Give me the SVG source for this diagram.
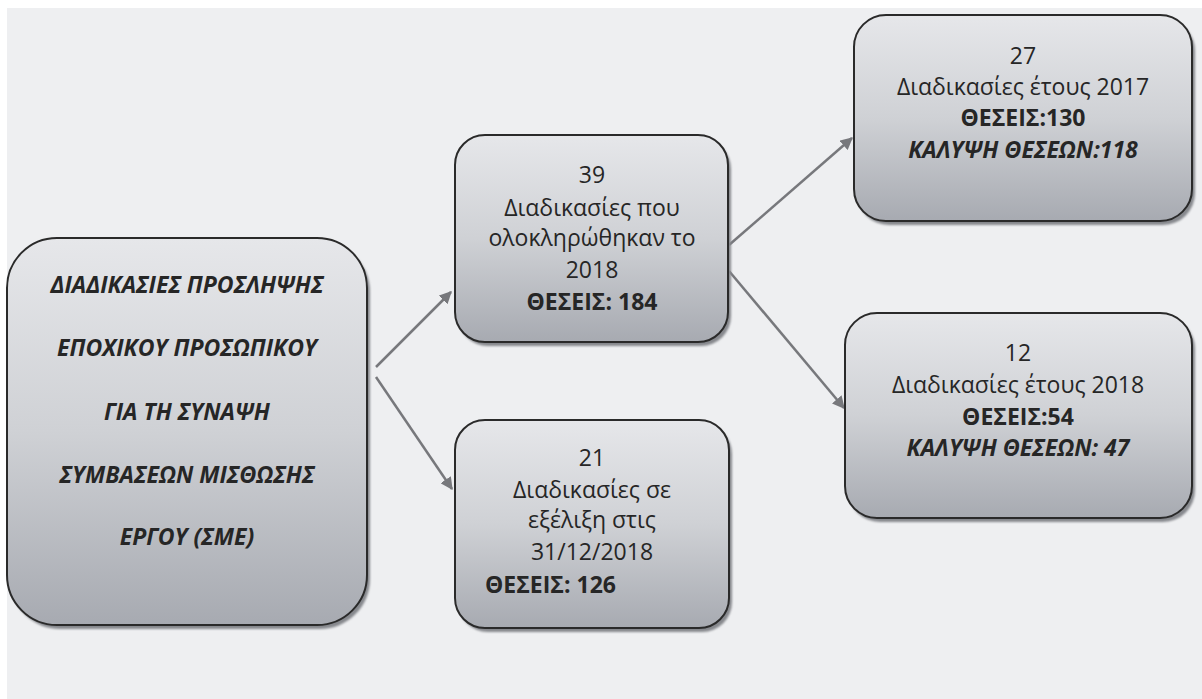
<svg xmlns="http://www.w3.org/2000/svg" width="1202" height="699" viewBox="0 0 1202 699">
<defs>
<linearGradient id="g" x1="0" y1="0" x2="0" y2="1">
<stop offset="0" stop-color="#e6e7ea"/>
<stop offset="0.5" stop-color="#cfd1d5"/>
<stop offset="1" stop-color="#a7aab1"/>
</linearGradient>
<filter id="sh" x="-10%" y="-10%" width="120%" height="120%">
<feGaussianBlur stdDeviation="1.2"/>
</filter>
<marker id="ah" viewBox="0 0 10 10" refX="9" refY="5" markerWidth="5" markerHeight="5" orient="auto" markerUnits="strokeWidth">
<path d="M0,0 L10,5 L0,10 z" fill="#77787c"/>
</marker>
</defs>
<style>
.box{fill:url(#g);stroke:#2a2a2a;stroke-width:2}
.shadow{fill:#86888d;filter:url(#sh)}
.t{font-family:"Open Sans","Noto Sans","DejaVu Sans",sans-serif;font-size:23px;fill:#262626;text-anchor:middle}
.b{font-weight:bold}
.bi{font-weight:bold;font-style:italic}
.conn{stroke:#77787c;stroke-width:2.5;fill:none;marker-end:url(#ah)}
</style>
<rect x="0" y="0" width="1202" height="699" fill="#ffffff"/>
<rect x="7" y="8" width="1195" height="691" fill="#eeeff1"/>

<g id="connectors">
<line class="conn" x1="376" y1="367" x2="451" y2="292"/>
<line class="conn" x1="376" y1="377" x2="452" y2="489"/>
<line class="conn" x1="729" y1="245" x2="852" y2="138"/>
<line class="conn" x1="729" y1="271" x2="844" y2="408"/>
</g>

<g id="node-main">
<rect class="shadow" x="10" y="242" width="360" height="387" rx="50"/>
<rect class="box" x="7" y="238" width="360" height="387" rx="50"/>
<text class="t bi" x="187" y="293">ΔΙΑΔΙΚΑΣΙΕΣ ΠΡΟΣΛΗΨΗΣ</text>
<text class="t bi" x="187" y="356">ΕΠΟΧΙΚΟΥ ΠΡΟΣΩΠΙΚΟΥ</text>
<text class="t bi" x="187" y="420">ΓΙΑ ΤΗ ΣΥΝΑΨΗ</text>
<text class="t bi" x="187" y="483">ΣΥΜΒΑΣΕΩΝ ΜΙΣΘΩΣΗΣ</text>
<text class="t bi" x="187" y="545">ΕΡΓΟΥ (ΣΜΕ)</text>
</g>

<g id="node-39">
<rect class="shadow" x="458" y="139" width="273" height="207" rx="30"/>
<rect class="box" x="455" y="135" width="273" height="207" rx="30"/>
<text class="t" x="592" y="183">39</text>
<text class="t" x="592" y="216">Διαδικασίες που</text>
<text class="t" x="592" y="246">ολοκληρώθηκαν το</text>
<text class="t" x="592" y="278">2018</text>
<text class="t b" x="592" y="310">ΘΕΣΕΙΣ: 184</text>
</g>

<g id="node-21">
<rect class="shadow" x="458" y="424" width="274" height="208" rx="30"/>
<rect class="box" x="455" y="420" width="274" height="208" rx="30"/>
<text class="t" x="592" y="466">21</text>
<text class="t" x="592" y="498">Διαδικασίες σε</text>
<text class="t" x="592" y="528">εξέλιξη στις</text>
<text class="t" x="592" y="560">31/12/2018</text>
<text class="t b" x="485" y="593" style="text-anchor:start">ΘΕΣΕΙΣ: 126</text>
</g>

<g id="node-27">
<rect class="shadow" x="857" y="19" width="338" height="206" rx="32"/>
<rect class="box" x="854" y="15" width="338" height="206" rx="32"/>
<text class="t" x="1023" y="64">27</text>
<text class="t" x="1023" y="95">Διαδικασίες έτους 2017</text>
<text class="t b" x="1023" y="126">ΘΕΣΕΙΣ:130</text>
<text class="t bi" x="1023" y="158">ΚΑΛΥΨΗ ΘΕΣΕΩΝ:118</text>
</g>

<g id="node-12">
<rect class="shadow" x="848" y="317" width="347" height="205" rx="32"/>
<rect class="box" x="845" y="313" width="347" height="205" rx="32"/>
<text class="t" x="1018" y="361">12</text>
<text class="t" x="1018" y="393">Διαδικασίες έτους 2018</text>
<text class="t b" x="1018" y="425">ΘΕΣΕΙΣ:54</text>
<text class="t bi" x="1018" y="456">ΚΑΛΥΨΗ ΘΕΣΕΩΝ: 47</text>
</g>
</svg>
